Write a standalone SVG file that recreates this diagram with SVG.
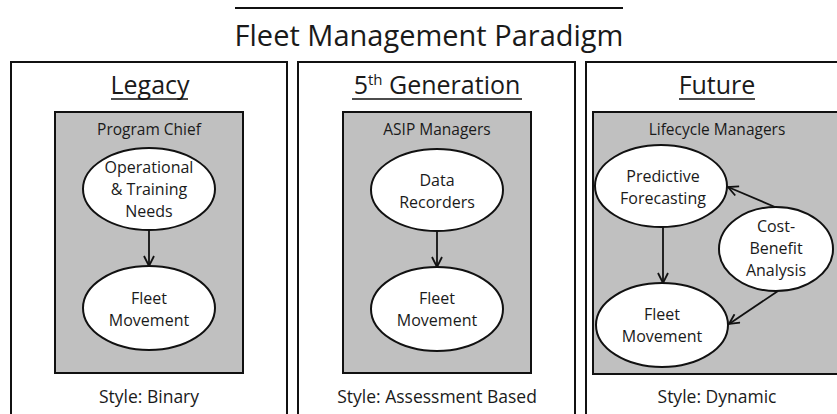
<svg xmlns="http://www.w3.org/2000/svg" width="837" height="414" viewBox="0 0 837 414">
<style>
text{font-family:"Open Sans","Liberation Sans",sans-serif;fill:#1a1a1a;text-anchor:middle}
.panel{fill:#fff;stroke:#111;stroke-width:2}
.gray{fill:#c0c0c0;stroke:#111;stroke-width:2}
.node{fill:#fff;stroke:#111;stroke-width:2}
.t{font-size:16px}
.s{font-size:17.5px}
.h{font-size:25px}
.c{font-size:15.5px}
.edge{stroke:#111;stroke-width:1.8;fill:none;marker-end:url(#arr)}
</style>
<defs>
<marker id="arr" viewBox="0 0 12 12" refX="11" refY="6" markerWidth="12" markerHeight="12" markerUnits="userSpaceOnUse" orient="auto">
<polyline points="1,1 11,6 1,11" fill="none" stroke="#111" stroke-width="1.8"/>
</marker>
</defs>
<rect width="837" height="414" fill="#fff"/>
<g id="title">
<line x1="235" y1="8" x2="623" y2="8" stroke="#111" stroke-width="2"/>
<text x="429" y="46" style="font-size:29px">Fleet Management Paradigm</text>
</g>
<g id="panel-legacy">
<rect class="panel" x="11" y="62" width="276" height="360"/>
<text class="h" x="150" y="94">Legacy</text>
<line x1="111" y1="99" x2="188" y2="99" stroke="#111" stroke-width="1.5"/>
<rect class="gray" x="55" y="112" width="188" height="261"/>
<text class="c" x="149" y="135">Program Chief</text>
<text class="s" x="149" y="403">Style: Binary</text>
</g>
<g id="node-ops">
<ellipse class="node" cx="149" cy="189" rx="66" ry="41"/>
<text class="t" x="149" y="173">Operational</text>
<text class="t" x="149" y="195">&amp; Training</text>
<text class="t" x="149" y="217">Needs</text>
</g>
<g id="node-fleet1">
<ellipse class="node" cx="149" cy="308" rx="66" ry="42"/>
<text class="t" x="149" y="304">Fleet</text>
<text class="t" x="149" y="326">Movement</text>
</g>
<g id="panel-5th">
<rect class="panel" x="298" y="62" width="277" height="360"/>
<text class="h" x="437" y="94">5<tspan dy="-9" style="font-size:15px">th</tspan><tspan dy="9"> Generation</tspan></text>
<line x1="352" y1="99" x2="522" y2="99" stroke="#111" stroke-width="1.5"/>
<rect class="gray" x="343" y="112" width="188" height="261"/>
<text class="c" x="437" y="135">ASIP Managers</text>
<text class="s" x="437" y="403">Style: Assessment Based</text>
</g>
<g id="node-data">
<ellipse class="node" cx="437" cy="190" rx="66" ry="41"/>
<text class="t" x="437" y="186">Data</text>
<text class="t" x="437" y="208">Recorders</text>
</g>
<g id="node-fleet2">
<ellipse class="node" cx="437" cy="309" rx="66" ry="42"/>
<text class="t" x="437" y="304">Fleet</text>
<text class="t" x="437" y="326">Movement</text>
</g>
<g id="panel-future">
<rect class="panel" x="586" y="62" width="270" height="360"/>
<text class="h" x="717" y="94">Future</text>
<line x1="679" y1="99" x2="755" y2="99" stroke="#111" stroke-width="1.5"/>
<rect class="gray" x="593" y="112" width="260" height="262"/>
<text class="c" x="717" y="135">Lifecycle Managers</text>
<text class="s" x="717" y="403">Style: Dynamic</text>
</g>
<g id="node-predict">
<ellipse class="node" cx="661" cy="186" rx="66" ry="41"/>
<text class="t" x="663" y="182">Predictive</text>
<text class="t" x="663" y="204">Forecasting</text>
</g>
<g id="node-cba">
<ellipse class="node" cx="776" cy="249" rx="57" ry="42"/>
<text class="t" x="776" y="232">Cost-</text>
<text class="t" x="776" y="254">Benefit</text>
<text class="t" x="776" y="276">Analysis</text>
</g>
<g id="node-fleet3">
<ellipse class="node" cx="662" cy="325" rx="66" ry="42"/>
<text class="t" x="662" y="320">Fleet</text>
<text class="t" x="662" y="342">Movement</text>
</g>
<g id="connectors">
<path class="edge" d="M149 230 V266"/>
<path class="edge" d="M437 231 V267"/>
<path class="edge" d="M663 227 V283"/>
<path class="edge" d="M775 207 L728 187"/>
<path class="edge" d="M778 291 L729 324"/>
</g>
</svg>
